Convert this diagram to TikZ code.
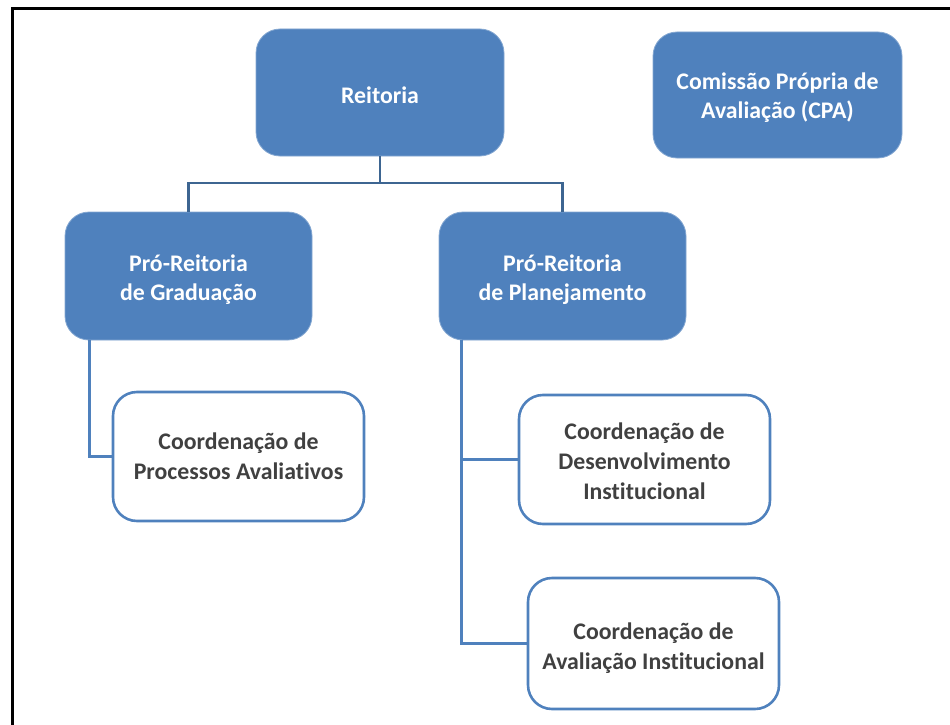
\documentclass[tikz,border=0pt]{standalone}
\usepackage{fontspec}
\setmainfont{Carlito}[Ligatures=NoCommon]
\usetikzlibrary{calc}
\definecolor{boxblue}{HTML}{4F81BD}
\definecolor{linedark}{HTML}{3D6591}
\definecolor{txtgray}{HTML}{404040}
% shift a centred text block down by #1 (adds 2*#1 of empty space above it)
\newcommand\lowered[2]{\raisebox{0pt}[\dimexpr\height+2\dimexpr#1\relax\relax][\depth]{\begin{tabular}{@{}c@{}}#2\end{tabular}}}
\tikzset{
  bluebox/.style={draw=boxblue!70!white, line width=0.8pt, fill=boxblue, rounded corners=24pt, inner sep=0pt,
    align=center, text=white, font=\fontsize{23.8}{29}\selectfont\bfseries},
  whitebox/.style={draw=boxblue, line width=2.6pt, fill=white, rounded corners=24pt, inner sep=0pt,
    align=center, text=txtgray, font=\fontsize{23.8}{30}\selectfont\bfseries},
  topline/.style={draw=linedark, line width=2.4pt},
  lowline/.style={draw=boxblue, line width=2.6pt},
}
\begin{document}
\begin{tikzpicture}[x=1pt,y=-1pt]
\useasboundingbox (0,0) rectangle (950,725);
% frame (cropped: top and left sides only)
\draw[line width=3pt, black] (12,725) -- (12,9) -- (950,9);
% nodes
\node[bluebox, minimum width=248pt, minimum height=127pt] (reit) at (380,92.5) {\lowered{5pt}{Reitoria}};
\node[bluebox, minimum width=249pt, minimum height=126pt] (cpa) at (777.5,95) {\lowered{3pt}{Comissão Própria de\\Avaliação (CPA)}};
\node[bluebox, minimum width=247pt, minimum height=128pt] (prg) at (188.5,276) {\lowered{4pt}{Pró-Reitoria\\de Graduação}};
\node[bluebox, minimum width=247pt, minimum height=128pt] (prp) at (562.5,276) {\lowered{4pt}{Pró-Reitoria\\de Planejamento}};
\node[whitebox, minimum width=251pt, minimum height=129pt] (cpav) at (238.5,456.5) {\lowered{2pt}{Coordenação de\\Processos Avaliativos}};
\node[whitebox, minimum width=251pt, minimum height=129pt] (cdi) at (644.5,459.5) {\lowered{4pt}{Coordenação de\\Desenvolvimento\\Institucional}};
\node[whitebox, minimum width=251pt, minimum height=131pt] (cai) at (653.5,643.5) {\lowered{4.5pt}{Coordenação de\\Avaliação Institucional}};
% connectors
\coordinate (bar) at (380,183);
\draw[topline] (reit.south) -- (bar);
\draw[topline] (prg.north) |- (bar) -| (prp.north);
\coordinate (gl) at ($(prg.south west)+(25,0)$);
\draw[lowline] (gl) |- (cpav.west);
\coordinate (pl) at ($(prp.south west)+(23,0)$);
\draw[lowline] (pl) |- (cai.west);
\draw[lowline] (cdi.west) -- (cdi.west -| pl);
\end{tikzpicture}
\end{document}
